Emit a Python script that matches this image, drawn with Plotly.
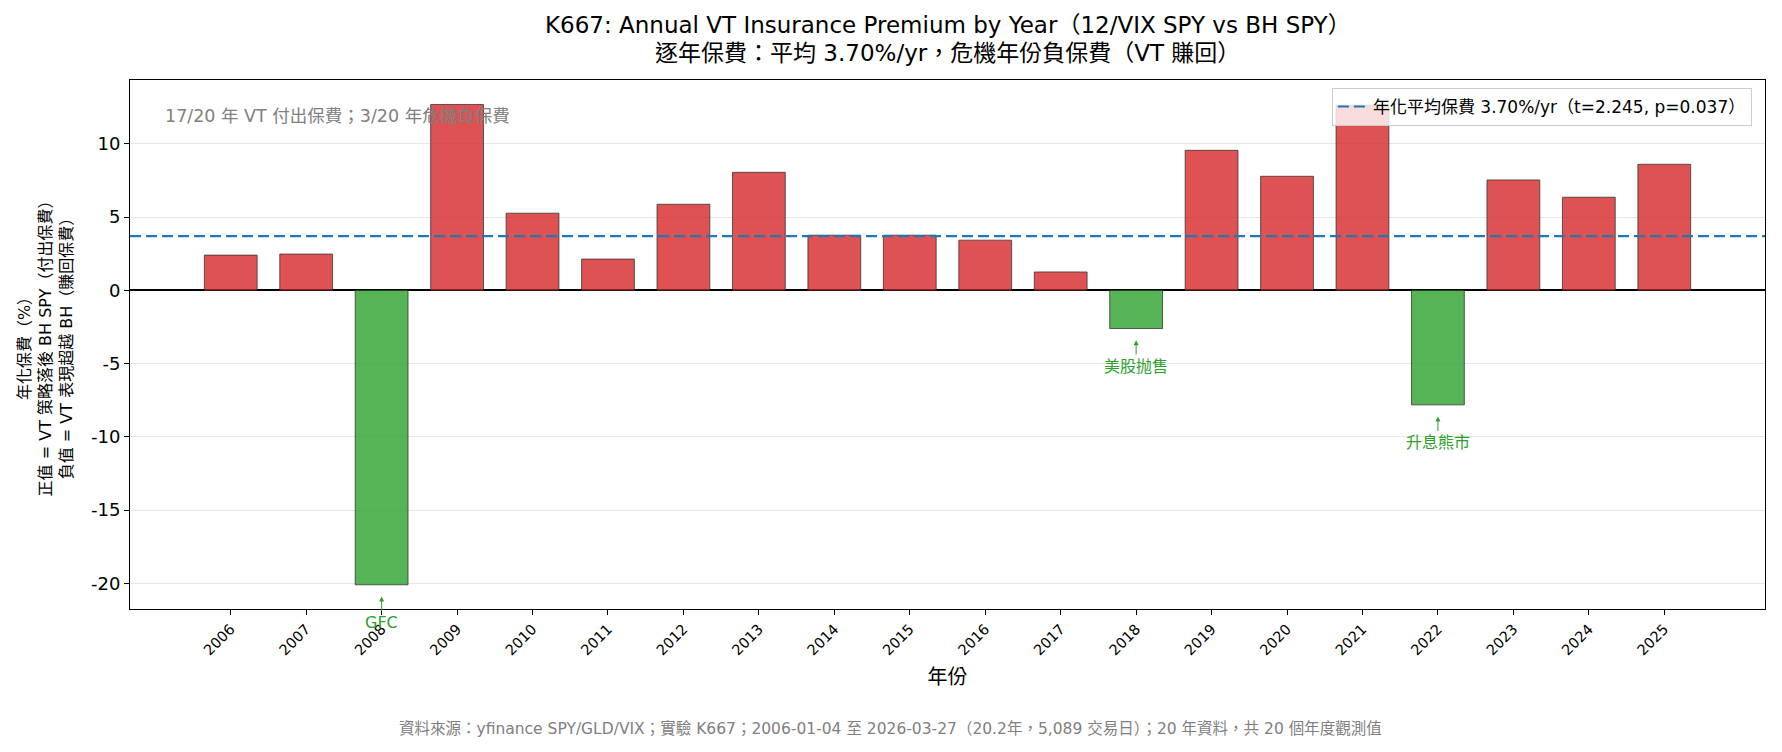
import plotly.graph_objects as go

years = list(range(2006, 2026))
premium = [2.40, 2.47, -20.10, 12.68, 5.26, 2.13, 5.87, 8.05, 3.76, 3.76,
           3.42, 1.25, -2.61, 9.55, 7.78, 12.63, -7.82, 7.53, 6.35, 8.60]
mean_premium = 3.70
legend_label = "年化平均保費 3.70%/yr（t=2.245, p=0.037）"
crisis_years = [2008, 2018, 2022]
crisis_labels = ["GFC", "美股抛售", "升息熊市"]
y_ticks = [-20, -15, -10, -5, 0, 5, 10]

title_line1 = "K667: Annual VT Insurance Premium by Year（12/VIX SPY vs BH SPY）"
title_line2 = "逐年保費：平均 3.70%/yr，危機年份負保費（VT 賺回）"
note_text = "17/20 年 VT 付出保費；3/20 年危機負保費"
footer_text = ("資料來源：yfinance SPY/GLD/VIX；實驗 K667；2006-01-04 至 2026-03-27"
               "（20.2年，5,089 交易日）；20 年資料，共 20 個年度觀測值")
ylabel = ("年化保費（%）<br>正值 = VT 策略落後 BH SPY（付出保費）"
          "<br>負值 = VT 表現超越 BH（賺回保費）")

FONT = "'DejaVu Sans', 'Noto Sans CJK TC', sans-serif"
RED = "rgba(214,39,40,0.8)"
GREEN = "rgba(44,160,44,0.8)"
XR = [2004.665, 2026.335]

colors = [RED if v >= 0 else GREEN for v in premium]

fig = go.Figure()
fig.add_trace(go.Bar(
    x=years, y=premium, width=0.7,
    marker=dict(color=colors, line=dict(color="rgba(40,40,40,0.9)", width=0.8)),
    showlegend=False, hoverinfo="x+y"))

fig.add_trace(go.Scatter(
    x=XR, y=[mean_premium, mean_premium], mode="lines",
    line=dict(color="#1f77b4", width=2.2, dash="11px,5px"),
    name=legend_label, showlegend=True))

annotations = []
val_map = dict(zip(years, premium))
for yr, lab in zip(crisis_years, crisis_labels):
    v = val_map[yr]
    annotations.append(dict(
        x=yr, y=v - 0.8, xref="x", yref="y",
        ax=yr, ay=v - 2.6, axref="x", ayref="y",
        text=lab, showarrow=True, arrowhead=2, arrowsize=1, arrowwidth=1,
        arrowcolor="#2ca02c", font=dict(color="#2ca02c", size=16, family=FONT),
        standoff=0, startstandoff=1))

annotations.append(dict(
    x=0.02, y=0.955, xref="paper", yref="paper", xanchor="left", yanchor="top",
    text=note_text, showarrow=False,
    font=dict(color="#808080", size=17.5, family=FONT)))

# title lines (paper coordinates above the plot)
annotations.append(dict(
    x=0.5, y=1.104, xref="paper", yref="paper", xanchor="center", yanchor="middle",
    text=title_line1, showarrow=False, font=dict(size=23, family=FONT, color="black")))
annotations.append(dict(
    x=0.5, y=1.051, xref="paper", yref="paper", xanchor="center", yanchor="middle",
    text=title_line2, showarrow=False, font=dict(size=23, family=FONT, color="black")))

annotations.append(dict(
    x=0.4654, y=-0.225, xref="paper", yref="paper", xanchor="center", yanchor="middle",
    text=footer_text, showarrow=False,
    font=dict(color="#808080", size=15.5, family=FONT)))

fig.update_layout(
    width=1782, height=752,
    margin=dict(l=130, r=17, t=80, b=143),
    paper_bgcolor="white", plot_bgcolor="white",
    font=dict(family=FONT, color="black"),
    legend=dict(x=0.992, y=0.985, xanchor="right", yanchor="top",
                bgcolor="rgba(255,255,255,0.8)", bordercolor="#cccccc", borderwidth=1,
                font=dict(size=17, family=FONT)),
    annotations=annotations,
)

fig.update_xaxes(
    range=XR, tickmode="array", tickvals=years,
    ticktext=[str(y) for y in years], tickangle=-45, tickfont=dict(size=14.5),
    showgrid=False, showline=True, linecolor="black", linewidth=1, mirror=True,
    ticks="outside", ticklen=5, tickcolor="black",
    title=dict(text="年份", font=dict(size=20), standoff=12), zeroline=False)
fig.update_yaxes(
    range=[-21.75, 14.35], tickmode="array", tickvals=y_ticks,
    ticktext=[str(t) for t in y_ticks], tickfont=dict(size=18),
    showgrid=True, gridcolor="#e6e6e6", gridwidth=1,
    zeroline=True, zerolinecolor="black", zerolinewidth=1.5,
    showline=True, linecolor="black", linewidth=1, mirror=True,
    ticks="outside", ticklen=5, tickcolor="black",
    title=dict(text=ylabel, font=dict(size=16), standoff=14))

fig.write_html("out.html")
